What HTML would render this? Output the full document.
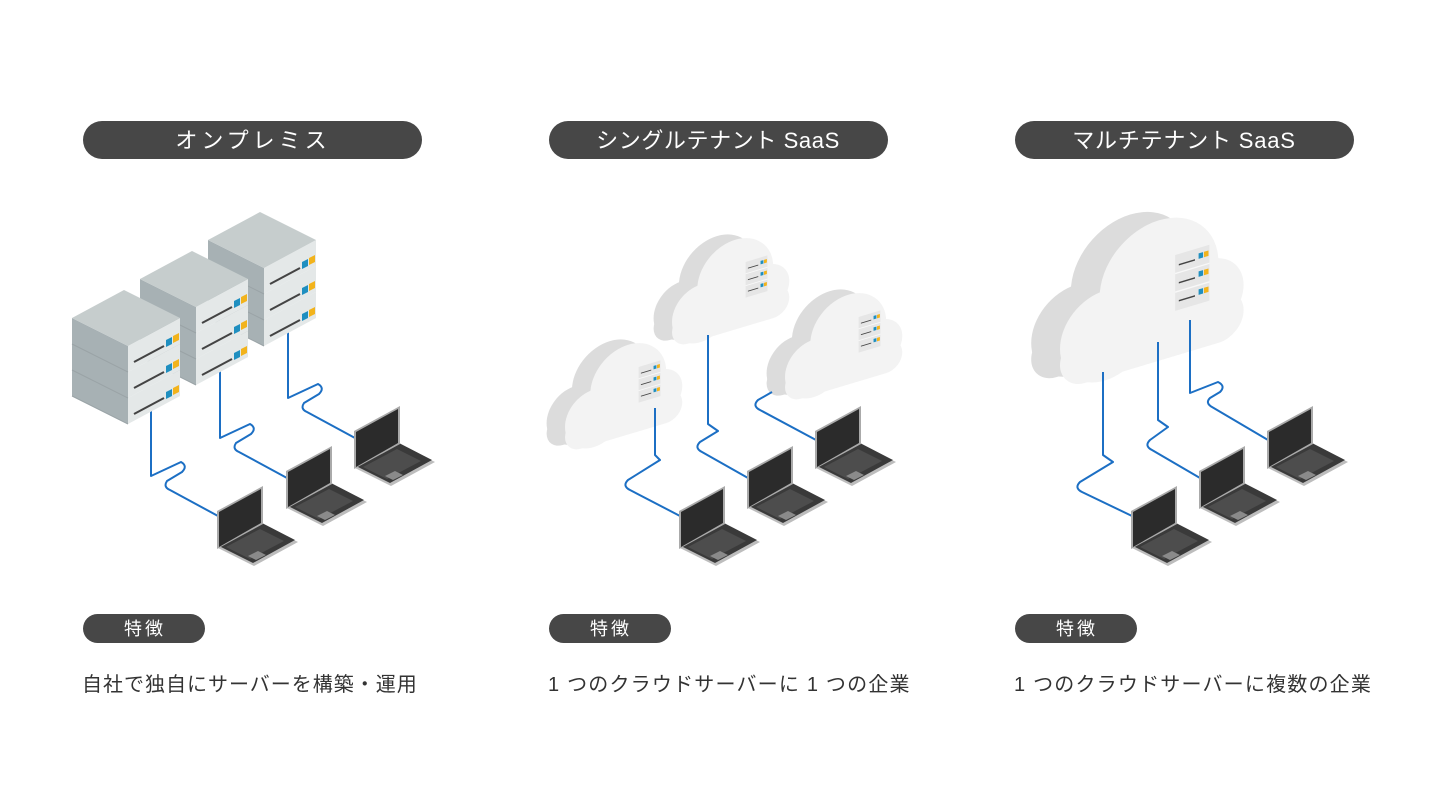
<!DOCTYPE html>
<html><head><meta charset="utf-8"><style>
html,body{margin:0;padding:0;background:#fff;}
svg{display:block;}
text{font-family:"Liberation Sans","Noto Sans CJK JP",sans-serif;}
</style></head><body>
<svg width="1440" height="810" viewBox="0 0 1440 810" xmlns="http://www.w3.org/2000/svg">
<defs>
  <g id="unit">
    <polygon points="0,0 56,28 56,54 0,26" fill="#a7b1b4"/>
    <polygon points="56,28 108,0 108,26 56,54" fill="#e4e8e8"/>
    <line x1="62" y1="44" x2="92" y2="28" stroke="#444" stroke-width="2"/>
    <polygon points="94,22 100,19 100,26 94,29" fill="#1f8fc0"/>
    <polygon points="101,18 107,15 107,22 101,25" fill="#f2b31c"/>
    <line x1="0" y1="26" x2="56" y2="54" stroke="#9aa3a6" stroke-width="1"/>
  </g>
  <g id="stack">
    <use href="#unit" transform="translate(0,52)"/>
    <use href="#unit" transform="translate(0,26)"/>
    <use href="#unit"/>
    <polygon points="0,0 52,-28 108,0 56,28" fill="#c6cdcd"/>
  </g>
  <g id="laptop">
    <polygon points="0,0 44,-24 80,-6 36,18" fill="#bdbdbd"/>
    <polygon points="1,-2 44,-25 77,-8 35,15" fill="#3a3a3a"/>
    <polygon points="8,-1 42,-19 66,-7 32,11" fill="#555" opacity="0.7"/>
    <polygon points="30,8 40,3 48,7 38,12" fill="#8a8a8a"/>
    <polygon points="-1,-37 45,-62 45,-24 -1,1" fill="#aaa"/>
    <polygon points="1,-36 43,-59 43,-25 1,-1" fill="#2b2b2b"/>
  </g>
  <g id="cloud">
    <g transform="translate(-16,-8)" fill="#dcdcdc">
      <circle cx="25" cy="60" r="25"/><circle cx="55" cy="38" r="33"/><circle cx="82" cy="55" r="20"/>
      <rect x="0" y="55" width="102" height="28" rx="14"/>
    </g>
    <g fill="#f3f3f3">
      <circle cx="25" cy="60" r="25"/><circle cx="55" cy="38" r="33"/><circle cx="82" cy="55" r="20"/>
      <rect x="0" y="55" width="102" height="28" rx="14"/>
    </g>
    <g>
      <rect x="64" y="27" width="19" height="31" fill="#e6e6e6"/>
      <line x1="64" y1="37.3" x2="83" y2="37.3" stroke="#f8f8f8" stroke-width="0.8"/>
      <line x1="64" y1="47.6" x2="83" y2="47.6" stroke="#f8f8f8" stroke-width="0.8"/>
      <line x1="66" y1="33" x2="75" y2="33" stroke="#444" stroke-width="0.8"/>
      <line x1="66" y1="43" x2="75" y2="43" stroke="#444" stroke-width="0.8"/>
      <line x1="66" y1="53" x2="75" y2="53" stroke="#444" stroke-width="0.8"/>
      <rect x="77" y="30" width="2.5" height="3" fill="#1f8fc0"/><rect x="80" y="30" width="2.5" height="3" fill="#f2b31c"/>
      <rect x="77" y="40" width="2.5" height="3" fill="#1f8fc0"/><rect x="80" y="40" width="2.5" height="3" fill="#f2b31c"/>
      <rect x="77" y="50" width="2.5" height="3" fill="#1f8fc0"/><rect x="80" y="50" width="2.5" height="3" fill="#f2b31c"/>
    </g>
  </g>
</defs>

<rect x="83" y="121" width="339" height="38" rx="19" fill="#474747"/>
<text x="253" y="148" font-size="22" fill="#fff" text-anchor="middle" letter-spacing="4">オンプレミス</text>
<rect x="549" y="121" width="339" height="38" rx="19" fill="#474747"/>
<text x="718" y="148" font-size="22" fill="#fff" text-anchor="middle" letter-spacing="0.6">シングルテナント SaaS</text>
<rect x="1015" y="121" width="339" height="38" rx="19" fill="#474747"/>
<text x="1184" y="148" font-size="22" fill="#fff" text-anchor="middle" letter-spacing="0.8">マルチテナント SaaS</text>

<g fill="none" stroke="#1c6fc4" stroke-width="2" stroke-linejoin="round">
  <path d="M151 405 V476 L181 462 Q188 466 182 472 L167 481 Q163 487 170 490 L218 516"/>
  <path d="M220 368 V438 L250 424 Q257 428 251 434 L236 443 Q232 449 239 452 L287 478"/>
  <path d="M288 328 V398 L318 384 Q325 388 319 394 L304 403 Q300 409 307 412 L355 438"/>
</g>
<use href="#stack" transform="translate(208,240)"/>
<use href="#stack" transform="translate(140,279)"/>
<use href="#stack" transform="translate(72,318)"/>
<use href="#laptop" transform="translate(355,468)"/>
<use href="#laptop" transform="translate(287,508)"/>
<use href="#laptop" transform="translate(218,548)"/>

<use href="#cloud" transform="translate(785,308) scale(1.15) matrix(1,-0.3,0,1,0,0)"/>
<use href="#cloud" transform="translate(672,253) scale(1.15) matrix(1,-0.3,0,1,0,0)"/>
<use href="#cloud" transform="translate(565,358) scale(1.15) matrix(1,-0.3,0,1,0,0)"/>
<g fill="none" stroke="#1c6fc4" stroke-width="2" stroke-linejoin="round">
  <path d="M655 408 V455 L660 460 L628 480 Q622 486 630 490 L680 516"/>
  <path d="M708 335 V424 L718 431 L700 442 Q694 448 702 452 L748 478"/>
  <path d="M772 392 L758 400 Q752 406 760 410 L816 440"/>
</g>
<use href="#laptop" transform="translate(816,468)"/>
<use href="#laptop" transform="translate(748,508)"/>
<use href="#laptop" transform="translate(680,548)"/>

<use href="#cloud" transform="translate(1060,241) scale(1.8) matrix(1,-0.3,0,1,0,0)"/>
<g fill="none" stroke="#1c6fc4" stroke-width="2" stroke-linejoin="round">
  <path d="M1103 372 V455 L1113 462 L1080 482 Q1074 488 1082 492 L1132 516"/>
  <path d="M1158 342 V420 L1168 427 L1150 440 Q1144 446 1152 450 L1200 478"/>
  <path d="M1190 320 V393 L1218 382 Q1226 386 1220 392 L1210 398 Q1205 403 1212 407 L1268 440"/>
</g>
<use href="#laptop" transform="translate(1268,468)"/>
<use href="#laptop" transform="translate(1200,508)"/>
<use href="#laptop" transform="translate(1132,548)"/>

<rect x="83" y="614" width="122" height="29" rx="14.5" fill="#474747"/>
<text x="145" y="635" font-size="18" fill="#fff" text-anchor="middle" letter-spacing="3">特徴</text>
<rect x="549" y="614" width="122" height="29" rx="14.5" fill="#474747"/>
<text x="611" y="635" font-size="18" fill="#fff" text-anchor="middle" letter-spacing="3">特徴</text>
<rect x="1015" y="614" width="122" height="29" rx="14.5" fill="#474747"/>
<text x="1077" y="635" font-size="18" fill="#fff" text-anchor="middle" letter-spacing="3">特徴</text>

<text x="82" y="691" font-size="20" fill="#333" letter-spacing="1">自社で独自にサーバーを構築・運用</text>
<text x="548" y="691" font-size="20" fill="#333" letter-spacing="1.2">1 つのクラウドサーバーに 1 つの企業</text>
<text x="1014" y="691" font-size="20" fill="#333" letter-spacing="1.2">1 つのクラウドサーバーに複数の企業</text>
</svg>
</body></html>
